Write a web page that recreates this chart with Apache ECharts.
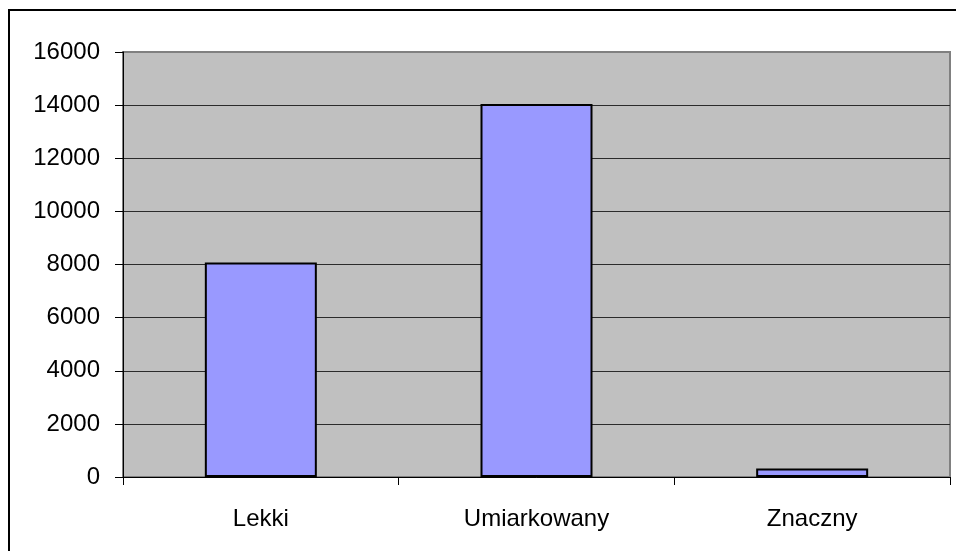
<!DOCTYPE html>
<html>
<head>
<meta charset="utf-8">
<script src="https://cdn.jsdelivr.net/npm/echarts@6/dist/echarts.min.js"></script>
<style>
  html, body { margin: 0; padding: 0; background: #fff; }
  #chart { width: 956px; height: 551px; }
</style>
</head>
<body>
<div id="chart"></div>
<script>
  // kategorie i wartosci
  var categories = ['Lekki', 'Umiarkowany', 'Znaczny']
  var values = [8080, 14040, 320]
  var yTicks = [0, 2000, 4000, 6000, 8000, 10000, 12000, 14000, 16000]

  var chart = echarts.init(document.getElementById('chart'))
  var font = 'Liberation Sans, Arial, sans-serif'
  var gridColors = yTicks.map(function (t, i) {
    return i === yTicks.length - 1 ? '#808080' : '#2b2b2b'
  })

  chart.setOption({
    animation: false,
    backgroundColor: '#fff',
    graphic: [
      {
        type: 'rect',
        shape: { x: 9, y: 10, width: 1000, height: 600 },
        style: { fill: 'none', stroke: '#000', lineWidth: 2 },
        silent: true
      }
    ],
    grid: {
      left: 123,
      top: 52,
      right: 6,
      bottom: 74,
      show: true,
      backgroundColor: '#c0c0c0',
      borderColor: '#808080',
      borderWidth: 2
    },
    xAxis: {
      type: 'category',
      data: categories,
      axisLine: { lineStyle: { color: '#000', width: 1 } },
      axisTick: { show: true, length: 8, lineStyle: { color: '#000' } },
      axisLabel: { color: '#000', fontSize: 24, fontFamily: font, margin: 30 },
      splitLine: { show: false }
    },
    yAxis: {
      type: 'value',
      min: yTicks[0],
      max: yTicks[yTicks.length - 1],
      interval: 2000,
      axisLine: { show: true, lineStyle: { color: '#000', width: 1 } },
      axisTick: { show: true, length: 8, lineStyle: { color: '#000' } },
      axisLabel: {
        color: '#000',
        fontSize: 24,
        fontFamily: font,
        margin: 23,
        formatter: function (v) { return String(v) }
      },
      splitLine: { show: true, lineStyle: { color: gridColors, width: 1 } }
    },
    series: [
      {
        type: 'bar',
        data: values,
        barWidth: 112,
        itemStyle: { color: '#9999ff', borderColor: '#000', borderWidth: 2 }
      }
    ]
  })
</script>
</body>
</html>
